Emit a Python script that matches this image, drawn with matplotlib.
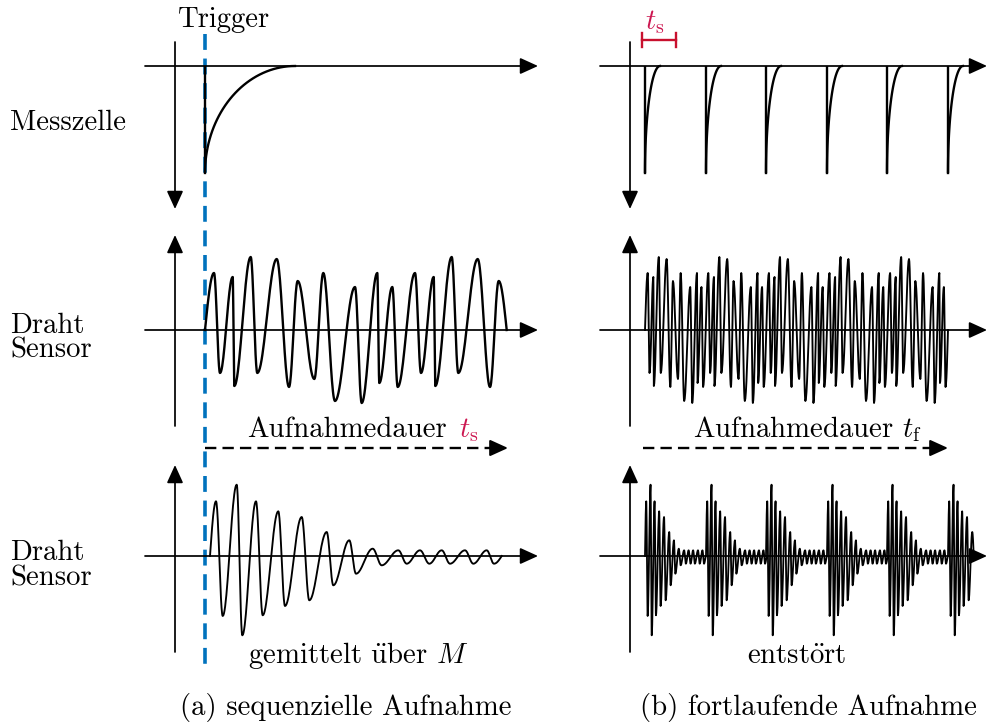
import numpy as np
import matplotlib

matplotlib.use("Agg")
import matplotlib.pyplot as plt

plt.rcParams["font.family"] = ["cmr10", "DejaVu Serif"]
plt.rcParams["mathtext.fontset"] = "cm"
plt.rcParams["axes.unicode_minus"] = False

W, H = 988, 726
BLUE = "#0072bd"
RED = "#c8102e"
PINK = "#cc1650"
FS = 20.7

# Messzelle pulse: depth and recovery time (sketch units)
CELL_DEPTH = 107
REC_SEQ = 90
REC_CONT = 15
SPIKE_T = [15, 76, 136, 197, 257, 318]  # pulses after origin, continuous mode
CONT_PERIOD = 60.6

# raw wire-sensor oscillation, one period of extrema (time, amplitude)
WIRE_PERIOD = 201
WIRE_T = [9, 15, 27.7, 29.3, 45.7, 52.3, 71.7, 84, 92.7, 109.3, 118.3, 130,
          150, 156.7, 172.3, 174.3, 187.3, 192.7]
WIRE_A = [57, -43, 53, -56, 73, -43, 71, -57, 49, -49, 57, -71,
          43, -73, 57, -53, 43, -57]
WIRE_LEN_SEQ = 301.7

# averaged / cleaned response after one trigger (time, amplitude)
AVG_T = [5, 11, 17.7, 31.7, 37.3, 51, 57.7, 73.3, 80, 96.7, 104.3, 121.7, 128.3,
         144.3, 151, 167.7, 176.7, 193.3, 201.7, 215, 224.3, 236.7, 245, 260,
         268.3, 281.7, 289, 296.7]
AVG_A = [0, 54.7, -60, 71.3, -79.3, 54.7, -59.3, 44.7, -50, 39, -44.3, 24, -29.3,
         15.7, -17.7, 7.3, -9.3, 5.7, -7.7, 5.7, -7.7, 5.7, -7.7, 5.7,
         -7.7, 5.7, -7.7, 0]

# layout (pixels)
OX = [175, 630]          # vertical axis of panel a / b
TRIG_X = 205
ROW_Y = [66, 330, 556]
X_END = [538, 987]
AX_LW = 1.25


def smooth(xs, ys, n=24):
    px, py = [xs[0]], [ys[0]]
    t = np.linspace(0, 1, n)[1:]
    for x0, y0, x1, y1 in zip(xs[:-1], ys[:-1], xs[1:], ys[1:]):
        if y0 == 0:
            s = y1 * np.sin(np.pi / 2 * t)
        elif y1 == 0:
            s = y0 * np.cos(np.pi / 2 * t)
        else:
            s = y0 + (y1 - y0) * (1 - np.cos(np.pi * t)) / 2
        px.extend(x0 + (x1 - x0) * t)
        py.extend(s)
    return np.array(px), np.array(py)


def arrow(ax, x0, y0, x1, y1, lw=AX_LW):
    ax.annotate("", xy=(x1, y1), xytext=(x0, y0),
                arrowprops=dict(arrowstyle="-|>,head_length=1.1,head_width=0.5",
                                mutation_scale=10, lw=lw, color="k",
                                shrinkA=0, shrinkB=0))


def dashed_arrow(ax, x0, x1, y):
    ax.plot([x0, x1 - 12], [y, y], color="k", lw=1.7, dashes=(4.8, 2.6))
    arrow(ax, x1 - 16, y, x1, y, lw=1.5)


def pulse(ax, x, y, width, lw):
    th = np.linspace(0, np.pi / 2, 40)
    ax.plot([x, x], [y, y + CELL_DEPTH], color="k", lw=lw, solid_capstyle="butt")
    ax.plot(x + width * (1 - np.cos(th)), y + CELL_DEPTH * (1 - np.sin(th)),
            color="k", lw=lw)


fig = plt.figure(figsize=(W / 100, H / 100), dpi=100)
ax = fig.add_axes([0, 0, 1, 1])
ax.set_xlim(0, W)
ax.set_ylim(H, 0)
ax.axis("off")

# coordinate axes
for p in range(2):
    ox = OX[p]
    xs = 145 if p == 0 else 600
    for y in ROW_Y:
        arrow(ax, xs, y, X_END[p], y)
    arrow(ax, ox, 42, ox, 209)
    arrow(ax, ox, 426, ox, 235)
    arrow(ax, ox, 652, ox, 465)

# trigger line
ax.plot([TRIG_X, TRIG_X], [34, 668], color=BLUE, lw=2.6, dashes=(4.4, 2.4), zorder=1)
ax.text(224, 27, "Trigger", fontsize=FS, ha="center", va="baseline")

# row 1: Messzelle
pulse(ax, TRIG_X, ROW_Y[0], REC_SEQ, 1.7)
for t in SPIKE_T:
    pulse(ax, OX[1] + t, ROW_Y[0], REC_CONT, 1.7)

# t_s bracket
ax.plot([642, 676], [40, 40], color=RED, lw=1.7)
ax.plot([642, 642], [33, 47], color=RED, lw=1.7)
ax.plot([676, 676], [33, 47], color=RED, lw=1.7)
ax.text(645, 29, r"$t_\mathrm{s}$", fontsize=FS, color=PINK, va="baseline")

# row 2: raw wire signal
t2 = WIRE_T + [v + WIRE_PERIOD for v in WIRE_T]
a2 = WIRE_A * 2
keep = [(t, a) for t, a in zip(t2, a2) if t < WIRE_LEN_SEQ]
ts = [0] + [k[0] for k in keep] + [WIRE_LEN_SEQ]
as_ = [0] + [k[1] for k in keep] + [0]
x, y = smooth([TRIG_X + v for v in ts], [-v for v in as_])
ax.plot(x, ROW_Y[1] + y, color="k", lw=1.7)

nper = 5
tc = [v + i * WIRE_PERIOD for i in range(nper) for v in WIRE_T]
ac = WIRE_A * nper
kc = CONT_PERIOD / WIRE_PERIOD
x0 = OX[1] + SPIKE_T[0]
ts = [0] + tc + [nper * WIRE_PERIOD]
as_ = [0] + ac + [0]
x, y = smooth([x0 + v * kc for v in ts], [-v for v in as_], n=12)
ax.plot(x, ROW_Y[1] + y, color="k", lw=1.35)

dashed_arrow(ax, TRIG_X, 508, 448)
dashed_arrow(ax, 643, 948, 448)
ax.text(247, 437, "Aufnahmedauer", fontsize=FS, va="baseline")
ax.text(459, 437, r"$t_\mathrm{s}$", fontsize=FS, color=PINK, va="baseline")
ax.text(693, 437, r"Aufnahmedauer $t_\mathrm{f}$", fontsize=FS, va="baseline")

# row 3: averaged / cleaned
x, y = smooth([TRIG_X + v for v in AVG_T], [-v for v in AVG_A])
ax.plot(x, ROW_Y[2] + y, color="k", lw=1.35)

k3 = CONT_PERIOD / (AVG_T[-1] - AVG_T[0])
bx, by = [], []
for t in SPIKE_T:
    for tt, aa in zip(AVG_T, AVG_A):
        xv = OX[1] + t + (tt - AVG_T[0]) * k3
        if xv <= 973:
            bx.append(xv)
            by.append(-aa)
bx.append(bx[-1] + 1.5)
by.append(0)
x, y = smooth(bx, by, n=12)
ax.plot(x, ROW_Y[2] + y, color="k", lw=1.3)

ax.text(358, 663, r"gemittelt $\mathrm{\ddot{u}ber}$ $M$", fontsize=FS, ha="center", va="baseline")
ax.text(797, 664, r"$\mathrm{entst\ddot{o}rt}$", fontsize=FS, ha="center", va="baseline")

# row labels
ax.text(10, 130, "Messzelle", fontsize=FS, va="baseline")
for yb in (333, 560):
    ax.text(10, yb, "Draht", fontsize=FS, va="baseline")
    ax.text(10, yb + 25, "Sensor", fontsize=FS, va="baseline")

ax.text(346, 715, "(a) sequenzielle Aufnahme", fontsize=FS, ha="center", va="baseline")
ax.text(808, 715, "(b) fortlaufende Aufnahme", fontsize=FS, ha="center", va="baseline")

fig.savefig("out.png", dpi=100)
